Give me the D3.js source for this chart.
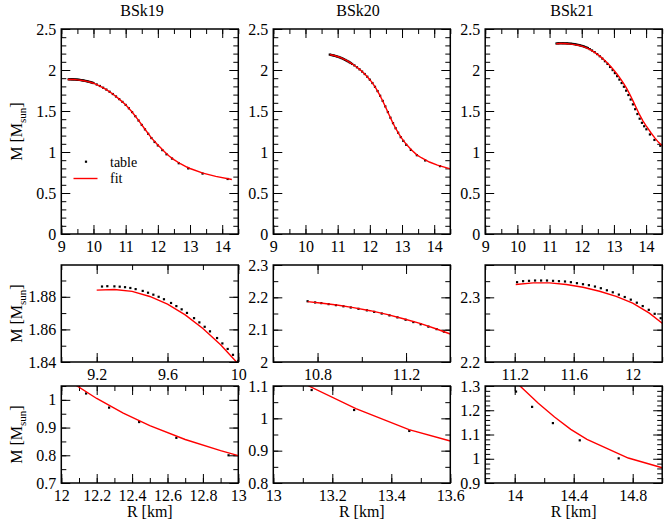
<!DOCTYPE html>
<html><head><meta charset="utf-8">
<script src="https://cdn.jsdelivr.net/npm/d3@7"></script>
<style>
body{margin:0;background:#fff}
svg{display:block}
</style>
</head><body>
<svg id="c" width="664" height="523"></svg>
<script>
// ---------------- data (R [km], M [Msun]) ----------------
const eosNames = ["BSk19", "BSk20", "BSk21"];

const bsk19Table = [[9.23,1.8863],[9.26,1.8865],[9.30,1.8864],[9.33,1.8862],[9.36,1.8859],[9.39,1.8854],[9.42,1.8847],[9.46,1.8836],[9.49,1.8825],[9.52,1.8813],[9.55,1.8800],[9.58,1.8785],[9.62,1.8762],[9.65,1.8743],[9.68,1.8723],[9.71,1.8701],[9.75,1.8669],[9.78,1.8643],[9.81,1.8616],[9.84,1.8588],[9.88,1.8547],[9.91,1.8514],[9.94,1.8480],[9.97,1.8444],
  [10.0,1.8407],[10.1,1.8235],[10.2,1.805],[10.3,1.784],[10.4,1.761],[10.5,1.735],[10.6,1.707],[10.7,1.677],[10.8,1.645],[10.9,1.611],[11.0,1.574],[11.1,1.533],[11.2,1.487],[11.3,1.437],[11.4,1.384],[11.5,1.330],[11.6,1.276],[11.7,1.222],[11.8,1.170],[11.9,1.122],[12.0,1.080],
  [12.14,1.023],[12.27,0.972],[12.44,0.920],[12.65,0.863],[12.945,0.800],[13.39,0.737],[14.17,0.671]];
const bsk19Fit = [[9.20,1.8841],[9.30,1.8845],[9.40,1.8833],[9.50,1.8802],[9.60,1.8755],[9.70,1.8689],[9.80,1.8606],[9.90,1.8506],[10.0,1.8388],[10.2,1.804],[10.4,1.760],[10.6,1.707],[10.8,1.645],[11.0,1.575],[11.2,1.488],[11.4,1.385],[11.6,1.277],[11.8,1.172],[12.0,1.086],[12.08,1.054],[12.2,1.005],[12.35,0.952],[12.5,0.907],[12.7,0.857],[12.9,0.817],[13.0,0.799],[13.4,0.742],[13.8,0.703],[14.3,0.665]];

const bsk20Table = [[10.755,2.1879],[10.789,2.1842],[10.817,2.1821],[10.85,2.1790],[10.883,2.1759],[10.917,2.1723],[10.95,2.1686],[10.985,2.1645],[11.023,2.1598],[11.056,2.1551],[11.09,2.1499],[11.125,2.1442],[11.161,2.1380],[11.198,2.1307],[11.233,2.1235],[11.266,2.1167],[11.301,2.1094],[11.338,2.1017],[11.371,2.0939],[11.405,2.0852],
  [11.45,2.074],[11.52,2.056],[11.60,2.033],[11.68,2.008],[11.76,1.981],[11.84,1.951],[11.92,1.918],[12.0,1.882],[12.08,1.841],[12.16,1.795],[12.24,1.743],[12.32,1.686],[12.40,1.623],[12.48,1.556],[12.56,1.487],[12.64,1.418],[12.72,1.352],[12.80,1.290],[12.88,1.235],[12.96,1.181],[13.04,1.135],
  [13.13,1.0876],[13.274,1.0258],[13.461,0.961],[13.72,0.897],[14.18,0.828]];
const bsk20Fit = [[10.755,2.1868],[10.812,2.1826],[10.887,2.1764],[10.962,2.1681],[11.038,2.1587],[11.113,2.1473],[11.188,2.1338],[11.263,2.1193],[11.338,2.1020],[11.4,2.0865],[11.5,2.061],[11.6,2.033],[11.7,2.002],[11.8,1.967],[11.9,1.927],[12.0,1.882],[12.1,1.830],[12.2,1.770],[12.3,1.700],[12.4,1.622],[12.5,1.538],[12.6,1.452],[12.7,1.368],[12.8,1.290],[12.9,1.222],[13.0,1.162],[13.12,1.100],[13.28,1.030],[13.46,0.965],[13.6,0.930],[13.85,0.878],[14.1,0.840],[14.5,0.795]];

const bsk21Table = [[11.216,2.3234],[11.257,2.3250],[11.297,2.3255],[11.338,2.3260],[11.379,2.3260],[11.419,2.3260],[11.46,2.3255],[11.50,2.3250],[11.541,2.3245],[11.581,2.3234],[11.622,2.3219],[11.663,2.3203],[11.703,2.3188],[11.744,2.3167],[11.784,2.3141],[11.825,2.3109],[11.865,2.3078],[11.906,2.3042],[11.946,2.3005],[11.987,2.2964],[12.028,2.2917],[12.068,2.2865],[12.109,2.2807],[12.149,2.2745],[12.19,2.2677],
  [12.25,2.2545],[12.32,2.238],[12.40,2.218],[12.48,2.194],[12.56,2.168],[12.64,2.139],[12.72,2.107],[12.80,2.074],[12.88,2.037],[12.96,1.999],[13.03,1.962],[13.10,1.925],[13.17,1.883],[13.24,1.841],[13.31,1.796],[13.38,1.748],[13.45,1.695],[13.52,1.640],[13.59,1.581],[13.66,1.522],[13.73,1.463],[13.80,1.406],[13.87,1.356],[13.94,1.314],
  [14.009,1.277],[14.118,1.214],[14.259,1.147],[14.441,1.076],[14.705,1.0015]];
const bsk21Fit = [[11.207,2.3198],[11.325,2.3224],[11.437,2.3224],[11.55,2.3198],[11.663,2.3156],[11.775,2.3094],[11.888,2.3016],[12.0,2.2911],[12.113,2.2755],[12.2,2.260],[12.3,2.239],[12.4,2.215],[12.5,2.188],[12.6,2.157],[12.7,2.122],[12.8,2.084],[12.9,2.042],[13.0,1.997],[13.1,1.948],[13.2,1.894],[13.3,1.836],[13.4,1.772],[13.5,1.698],[13.6,1.617],[13.7,1.533],[13.8,1.452],[13.9,1.380],[14.0,1.318],[14.036,1.300],[14.16,1.229],[14.27,1.172],[14.38,1.121],[14.49,1.080],[14.77,1.003],[15.0,0.963]];

const tables = [bsk19Table, bsk20Table, bsk21Table];
const fits = [bsk19Fit, bsk20Fit, bsk21Fit];

// ---------------- axes: domains and tick labels ----------------
const xDomains = [
  [[9,14.5],[9,14.5],[9,14.5]],
  [[9,10],[10.6,11.4],[11.0,12.2]],
  [[12,13],[13,13.6],[13.8,15.0]]
];
const yDomains = [
  [[0,2.5],[0,2.5],[0,2.5]],
  [[1.84,1.8995],[2.0,2.3],[2.2,2.35]],
  [[0.7,1.05],[0.8,1.1],[0.9,1.3]]
];
const xTickLabels = [
  [[9,10,11,12,13,14],[9,10,11,12,13,14],[9,10,11,12,13,14]],
  [[9.2,9.6,10],[10.8,11.2],[11.2,11.6,12]],
  [[12,12.2,12.4,12.6,12.8,13],[13,13.2,13.4,13.6],[14,14.4,14.8]]
];
const yTickLabels = [
  [[0,0.5,1,1.5,2,2.5],[0,0.5,1,1.5,2,2.5],[0,0.5,1,1.5,2,2.5]],
  [[1.84,1.86,1.88],[2,2.1,2.2,2.3],[2.2,2.3]],
  [[0.7,0.8,0.9,1],[0.8,0.9,1,1.1],[0.9,1,1.1,1.2,1.3]]
];
const yExtraMajor = [[[],[],[]],[[],[],[2.25,2.35]],[[],[],[]]];
const xMinorStep = [[0.5,0.5,0.5],[0.2,0.2,0.2],[0.1,0.1,0.2]];
const yMinorStep = [[0.1,0.1,0.1],[0.01,0.05,0.025],[0.05,0.05,0.02]];

const legendLabels = ["table", "fit"];
const xTitle = "R [km]";

// ---------------- layout ----------------
const FONT = "Liberation Serif";
const svg = d3.select("#c");
const colX = [61.3, 273.3, 485.2];
const PW = 177;
const rows = [{top:29, h:205}, {top:265, h:97}, {top:386, h:97}];
const MAJ = 9, MIN = 5;

function minorVals(d, step){
  const a = Math.ceil(d[0]/step - 1e-6), b = Math.floor(d[1]/step + 1e-6);
  return d3.range(a, b+1).map(i => +(i*step).toFixed(5));
}

function styleAxis(sel){
  sel.attr("font-family", FONT);
  sel.select(".domain").remove();
  sel.selectAll(".tick line").attr("stroke","#000").attr("stroke-width",1);
  sel.selectAll(".tick text").attr("font-size",16).attr("font-family",FONT).attr("fill","#000");
}

for (let r = 0; r < 3; r++){
  for (let c = 0; c < 3; c++){
    const H = rows[r].h;
    const g = svg.append("g").attr("transform", `translate(${colX[c]},${rows[r].top})`);
    const x = d3.scaleLinear().domain(xDomains[r][c]).range([0, PW]);
    const y = d3.scaleLinear().domain(yDomains[r][c]).range([H, 0]);
    const id = `clip${r}${c}`;
    g.append("clipPath").attr("id", id).append("rect").attr("width", PW).attr("height", H);

    const xMin = minorVals(xDomains[r][c], xMinorStep[r][c]);
    const yMin = minorVals(yDomains[r][c], yMinorStep[r][c]);
    const xMaj = xTickLabels[r][c];
    const yMaj = yTickLabels[r][c].concat(yExtraMajor[r][c]);
    const yLab = new Set(yTickLabels[r][c]);

    // minor ticks on four sides (pointing inward)
    g.append("g").attr("transform",`translate(0,${H})`).call(d3.axisBottom(x).tickValues(xMin).tickSizeInner(-MIN).tickSizeOuter(0).tickFormat("")).call(styleAxis);
    g.append("g").call(d3.axisTop(x).tickValues(xMin).tickSizeInner(-MIN).tickSizeOuter(0).tickFormat("")).call(styleAxis);
    g.append("g").call(d3.axisLeft(y).tickValues(yMin).tickSizeInner(-MIN).tickSizeOuter(0).tickFormat("")).call(styleAxis);
    g.append("g").attr("transform",`translate(${PW},0)`).call(d3.axisRight(y).tickValues(yMin).tickSizeInner(-MIN).tickSizeOuter(0).tickFormat("")).call(styleAxis);
    // major ticks
    g.append("g").attr("transform",`translate(0,${H})`).call(d3.axisBottom(x).tickValues(xMaj).tickSizeInner(-MAJ).tickSizeOuter(0).tickPadding(6.6).tickFormat(d => String(d))).call(styleAxis);
    g.append("g").call(d3.axisTop(x).tickValues(xMaj).tickSizeInner(-MAJ).tickSizeOuter(0).tickFormat("")).call(styleAxis);
    g.append("g").call(d3.axisLeft(y).tickValues(yMaj).tickSizeInner(-MAJ).tickSizeOuter(0).tickPadding(5).tickFormat(d => yLab.has(d) ? String(d) : "")).call(styleAxis);
    g.append("g").attr("transform",`translate(${PW},0)`).call(d3.axisRight(y).tickValues(yMaj).tickSizeInner(-MAJ).tickSizeOuter(0).tickFormat("")).call(styleAxis);

    // data
    const dg = g.append("g").attr("clip-path", `url(#${id})`);
    dg.selectAll("rect.pt").data(tables[c]).join("rect").attr("class","pt")
      .attr("x", d => x(d[0]) - 1.1).attr("y", d => y(d[1]) - 1.1)
      .attr("width", 2.2).attr("height", 2.2).attr("fill", "#000");
    dg.append("path").datum(fits[c])
      .attr("d", d3.line().x(d => x(d[0])).y(d => y(d[1])))
      .attr("fill","none").attr("stroke","#ff0000").attr("stroke-width",1.4);

    // frame
    g.append("rect").attr("width", PW).attr("height", H).attr("fill","none").attr("stroke","#000").attr("stroke-width",1.5);

    if (r === 0){
      const tx = [142, 358, 572][c];
      svg.append("text").attr("x", tx).attr("y", 16).attr("text-anchor","middle").attr("font-family",FONT).attr("font-size",16).text(eosNames[c]);
    }
    if (c === 0){
      const cy = rows[r].top + H/2;
      const t = svg.append("text").attr("transform", `translate(22,${cy}) rotate(-90)`).attr("text-anchor","middle").attr("font-family",FONT).attr("font-size",16);
      t.append("tspan").text("M [M");
      t.append("tspan").attr("font-size",11).attr("dy",4).text("sun");
      t.append("tspan").attr("dy",-4).text("]");
    }
    if (r === 2){
      svg.append("text").attr("x", colX[c] + PW/2).attr("y", 517).attr("text-anchor","middle").attr("font-family",FONT).attr("font-size",16).text(xTitle);
    }
  }
}

// legend (top-left panel)
svg.append("rect").attr("x", 84.9).attr("y", 160.6).attr("width", 2.2).attr("height", 2.2).attr("fill","#000");
svg.append("text").attr("x", 110).attr("y", 166.5).attr("font-family",FONT).attr("font-size", 14).text(legendLabels[0]);
svg.append("line").attr("x1", 73.5).attr("x2", 97.5).attr("y1", 178.5).attr("y2", 178.5).attr("stroke","#ff0000").attr("stroke-width",1.4);
svg.append("text").attr("x", 110).attr("y", 182.5).attr("font-family",FONT).attr("font-size", 14).text(legendLabels[1]);
</script>
</body></html>
